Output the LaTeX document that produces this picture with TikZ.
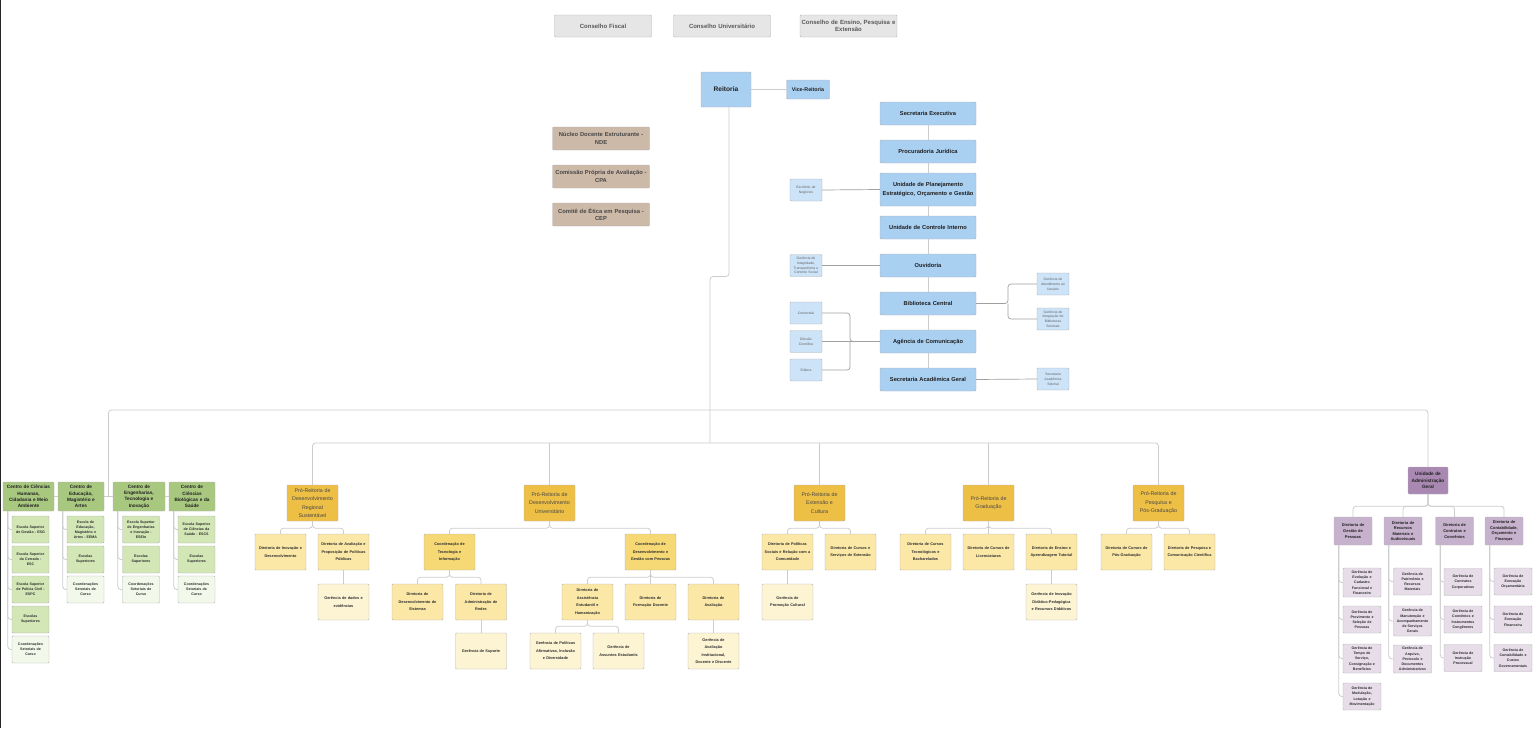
\documentclass[tikz,border=0pt]{standalone}
\usepackage{fontspec}
\setmainfont{Liberation Sans}

\definecolor{conselhocor}{HTML}{E6E6E6}
\definecolor{azul}{HTML}{A9CFF1}
\definecolor{azulclaro}{HTML}{CDE3F8}
\definecolor{comissaocor}{HTML}{CDB9A8}
\definecolor{centrocor}{HTML}{A8C77F}
\definecolor{escolacor}{HTML}{D2E6B6}
\definecolor{setorialcor}{HTML}{F2F8EA}
\definecolor{proreicor}{HTML}{EEBF45}
\definecolor{coordcor}{HTML}{F6D875}
\definecolor{diretcor}{HTML}{FBE8A7}
\definecolor{gerencor}{HTML}{FDF4D4}
\definecolor{uagcor}{HTML}{A988B2}
\definecolor{uagdircor}{HTML}{C7B2CE}
\definecolor{uaggercor}{HTML}{E6DDE9}
\definecolor{linha}{HTML}{CCCCCC}
\definecolor{linhaesc}{HTML}{A0A0A0}

\begin{document}
\begin{tikzpicture}[x=1pt, y=-1pt,
    box/.style={draw=black!30, rounded corners=1pt, align=center, inner sep=0pt},
    ramo/.style={draw=linha, line width=0.8pt, rounded corners=3pt},
    ramoesc/.style={draw=linhaesc, line width=0.7pt, rounded corners=3pt}]

        \useasboundingbox (0,0) rectangle (1536,728);
        \draw[line width=1.4pt, black!85] (0.7,0) -- (0.7,728);

        % conselhos
        \begin{scope}[every node/.style={box, fill=conselhocor, text=black!65, text width=97pt,
            minimum height=22pt, font=\fontsize{6}{7.5}\selectfont\bfseries}]
          \node (cf)   at (603,26)   {Conselho Fiscal};
          \node (cu)   at (722,26)   {Conselho Universitário};
          \node (cepe) at (848.5,26) {Conselho de Ensino, Pesquisa e\\Extensão};
        \end{scope}

        \begin{scope}[every node/.style={box, fill=comissaocor, text=black!72, text width=97pt,
            minimum height=23pt, font=\fontsize{5.8}{7.5}\selectfont\bfseries}]
          \node (nde) at (601,138.5) {Núcleo Docente Estruturante -\\NDE};
          \node (cpa) at (601,176.5) {Comissão Própria de Avaliação -\\CPA};
          \node (cep) at (601,214.5) {Comitê de Ética em Pesquisa -\\CEP};
        \end{scope}

        % reitoria e unidades
        \begin{scope}[every node/.style={box, fill=azul, text=black!88, text width=96pt,
            minimum height=23pt, font=\fontsize{5.7}{9.3}\selectfont\bfseries}]
          \node[text width=50pt, minimum height=35pt, font=\fontsize{6.6}{8}\selectfont\bfseries] (rei) at (726,89.5) {Reitoria};
          \node[text width=43pt, minimum height=19pt, font=\fontsize{5.3}{7}\selectfont\bfseries] (vice) at (808,89.5) {Vice-Reitoria};
          \node (sec)  at (928,113.5) {Secretaria Executiva};
          \node (proc) at (928,151.5) {Procuradoria Jurídica};
          \node[minimum height=33pt] (upl) at (928,189.5) {Unidade de Planejamento\\Estratégico, Orçamento e Gestão};
          \node (uci)  at (928,227.5) {Unidade de Controle Interno};
          \node (ouv)  at (928,265.5) {Ouvidoria};
          \node (bib)  at (928,303.5) {Biblioteca Central};
          \node (agc)  at (928,341.5) {Agência de Comunicação};
          \node (sag)  at (928,379.5) {Secretaria Acadêmica Geral};
        \end{scope}

        \begin{scope}[every node/.style={box, fill=azulclaro, text=black!62, text width=32pt,
            minimum height=22pt, font=\fontsize{3.4}{4.8}\selectfont}]
          \node (esn)  at (806,190)   {Escritório de\\Negócios};
          \node (gitc) at (806,265.5) {Gerência de\\Integridade,\\Transparência e\\Controle Social};
          \node (cer)  at (806,313)   {Cerimonial};
          \node (dif)  at (806,341.5) {Difusão\\Científica};
          \node (edi)  at (806,370)   {Editora};
          \node (gau)  at (1053,284)  {Gerência de\\Atendimento ao\\Usuário};
          \node (gibs) at (1053,319)  {Gerência de\\Integração de\\Bibliotecas\\Setoriais};
          \node (sas)  at (1053,379)  {Secretaria\\Acadêmica\\Setorial};
        \end{scope}

        % centros
        \begin{scope}[every node/.style={box, fill=centrocor, text=black!88,
            minimum height=29pt, font=\fontsize{4.7}{6.2}\selectfont\bfseries}]
          \node[text width=51pt] (cchcma) at (28.5,496.5) {Centro de Ciências\\Humanas,\\Cidadania e Meio\\Ambiente};
          \node[text width=46pt] (cema)   at (81,496.5)   {Centro de\\Educação,\\Magistério e\\Artes};
          \node[text width=52pt] (cetti)  at (139,496.5)  {Centro de\\Engenharias,\\Tecnologia e\\Inovação};
          \node[text width=46pt] (ccbs)   at (192,496.5)  {Centro de\\Ciências\\Biológicas e da\\Saúde};
        \end{scope}

        \begin{scope}[every node/.style={box, fill=escolacor, text=black!82, text width=37pt,
            minimum height=27pt, font=\fontsize{3.6}{5.1}\selectfont\bfseries}]
          \node (esg)   at (30.5,529.5) {Escola Superior\\de Gestão - ESG};
          \node (esc)   at (30.5,559.5) {Escola Superior\\do Cerrado -\\ESC};
          \node (espc)  at (30.5,589.5) {Escola Superior\\de Polícia Civil -\\ESPC};
          \node (esa)   at (30.5,619.5) {Escolas\\Superiores};
          \node[fill=setorialcor] (csa) at (30.5,649.5) {Coordenações\\Setoriais de\\Curso};
          \node (eema)  at (85.5,529.5) {Escola de\\Educação,\\Magistério e\\Artes - EEMA};
          \node (esb)   at (85.5,559.5) {Escolas\\Superiores};
          \node[fill=setorialcor] (csb) at (85.5,589.5) {Coordenações\\Setoriais de\\Curso};
          \node (esein) at (141,529.5)  {Escola Superior\\de Engenharias\\e Inovação -\\ESEIn};
          \node (esd)   at (141,559.5)  {Escolas\\Superiores};
          \node[fill=setorialcor] (csd) at (141,589.5) {Coordenações\\Setoriais de\\Curso};
          \node (escs)  at (196.5,529.5) {Escola Superior\\de Ciências da\\Saúde - ESCS};
          \node (ese)   at (196.5,559.5) {Escolas\\Superiores};
          \node[fill=setorialcor] (cse) at (196.5,589.5) {Coordenações\\Setoriais de\\Curso};
        \end{scope}

        % pro-reitorias
        \begin{scope}[every node/.style={box, fill=proreicor, text=black!72, text width=51pt,
            minimum height=36pt, font=\fontsize{5.3}{8.4}\selectfont}]
          \node (prdrs) at (312.5,503)  {Pró-Reitoria de\\Desenvolvimento\\Regional\\Sustentável};
          \node (prdu)  at (549.5,503)  {Pró-Reitoria de\\Desenvolvimento\\Universitário};
          \node (prec)  at (819.5,503)  {Pró-Reitoria de\\Extensão e\\Cultura};
          \node (prg)   at (988.5,503)  {Pró-Reitoria de\\Graduação};
          \node (prpg)  at (1158.5,503) {Pró-Reitoria de\\Pesquisa e\\Pós-Graduação};
        \end{scope}

        \begin{scope}[every node/.style={box, fill=diretcor, text=black!82, text width=51pt,
            minimum height=36pt, font=\fontsize{3.85}{7.5}\selectfont\bfseries}]
          \node[fill=coordcor] (cti)  at (449.5,552) {Coordenação de\\Tecnologia e\\Informação};
          \node[fill=coordcor] (cdgp) at (650.5,552) {Coordenação de\\Desenvolvimento e\\Gestão com Pessoas};
          \node (dinov) at (280.5,552)  {Diretoria de Inovação e\\Desenvolvimento};
          \node (dapp)  at (343.5,552)  {Diretoria de Avaliação e\\Proposição de Políticas\\Públicas};
          \node (dds)   at (417.5,602)  {Diretoria de\\Desenvolvimento de\\Sistemas};
          \node (dar)   at (481,602)    {Diretoria de\\Administração de\\Redes};
          \node (daeh)  at (587.5,602)  {Diretoria de\\Assistência\\Estudantil e\\Humanização};
          \node (dfd)   at (650.5,602)  {Diretoria de\\Formação Docente};
          \node (dav)   at (713.5,602)  {Diretoria de\\Avaliação};
          \node (dpsrc) at (787.5,552)  {Diretoria de Políticas\\Sociais e Relação com a\\Comunidade};
          \node (dcse)  at (850.5,552)  {Diretoria de Cursos e\\Serviços de Extensão};
          \node (dctb)  at (925.5,552)  {Diretoria de Cursos\\Tecnológicos e\\Bacharelados};
          \node (dcl)   at (988.5,552)  {Diretoria de Cursos de\\Licenciaturas};
          \node (deat)  at (1051.5,552) {Diretoria de Ensino e\\Aprendizagem Tutorial};
          \node (dcpg)  at (1126.5,552) {Diretoria de Cursos de\\Pós-Graduação};
          \node (dpcc)  at (1189.5,552) {Diretoria de Pesquisa e\\Comunicação Científica};
          \begin{scope}[every node/.append style={fill=gerencor}]
            \node (gde)   at (343.5,602)  {Gerência de dados e\\evidências};
            \node (gsup)  at (481,651)    {Gerência de Suporte};
            \node (gpaid) at (555.5,651)  {Gerência de Políticas\\Afirmativas, Inclusão\\e Diversidade};
            \node (gae)   at (618.5,651)  {Gerência de\\Assuntos Estudantis};
            \node (gaidd) at (713.5,651)  {Gerência de\\Avaliação\\Institucional,\\Docente e Discente};
            \node (gpc)   at (787.5,602)  {Gerência de\\Promoção Cultural};
            \node (gidp)  at (1051.5,602) {Gerência de Inovação\\Didático-Pedagógica\\e Recursos Didáticos};
          \end{scope}
        \end{scope}

        % administracao geral
        \begin{scope}[every node/.style={box, fill=uagdircor, text=black!88, text width=38pt,
            minimum height=28pt, font=\fontsize{4}{5.6}\selectfont\bfseries}]
          \node[fill=uagcor, text width=40pt, minimum height=27pt, font=\fontsize{4.7}{6.2}\selectfont\bfseries] (uag) at (1428,480.5) {Unidade de\\Administração\\Geral};
          \node (dgp)  at (1353,531)   {Diretoria de\\Gestão de\\Pessoas};
          \node (drma) at (1403,531)   {Diretoria de\\Recursos\\Materiais e\\Audiovisuais};
          \node (dcc)  at (1454.5,531) {Diretoria de\\Contratos e\\Convênios};
          \node (dcof) at (1504,531)   {Diretoria de\\Contabilidade,\\Orçamento e\\Finanças};
        \end{scope}

        \begin{scope}[every node/.style={box, fill=uaggercor, text=black!82, text width=38pt,
            minimum height=27pt, font=\fontsize{3.6}{5.2}\selectfont\bfseries}]
          \node[minimum height=29pt] (gecff) at (1362,582.5) {Gerência de\\Evolução e\\Cadastro\\Funcional e\\Financeiro};
          \node (gpsp)  at (1362,619.5) {Gerência de\\Provimento e\\Seleção de\\Pessoas};
          \node[minimum height=29pt] (gtscb) at (1362,658.5) {Gerência de\\Tempo de\\Serviço,\\Consignação e\\Benefícios};
          \node (gmlm)  at (1362,696.5) {Gerência de\\Modulação,\\Lotação e\\Movimentação};
          \node (gprm)  at (1412.5,581.5) {Gerência de\\Patrimônio e\\Recursos\\Materiais};
          \node[minimum height=30pt] (gmasg) at (1412.5,621) {Gerência de\\Manutenção e\\Acompanhamento\\de Serviços\\Gerais};
          \node[minimum height=28pt] (gapda) at (1412.5,659) {Gerência de\\Arquivo,\\Protocolo e\\Documentos\\Administrativos};
          \node (gcc)   at (1463,582)   {Gerência de\\Contratos\\Corporativos};
          \node (gcic)  at (1463,619.5) {Gerência de\\Convênios e\\Instrumentos\\Congêneres};
          \node (gip)   at (1463,658)   {Gerência de\\Instrução\\Processual};
          \node (gexo)  at (1513,581.5) {Gerência de\\Execução\\Orçamentária};
          \node (gexf)  at (1513,619.5) {Gerência de\\Execução\\Financeira};
          \node (gccg)  at (1513,658)   {Gerência de\\Contabilidade e\\Custos\\Governamentais};
        \end{scope}

        % pontos de juncao
        \coordinate (dobra) at (710,276.5);
        \coordinate (hub)   at (710,410);
        \coordinate (eixo)  at (710,443);
        \coordinate (cjun)  at (108.5,496.5);
        \coordinate (agcj)  at (850,341.5);
        \coordinate (bibj)  at (1008,303.5);

        % ligacoes
        \begin{scope}[every path/.style={ramo}]
          \path (rei.east) edge (vice.west);
          \draw ([xshift=3pt]rei.south) |- (dobra) -- (eixo);
          \draw (cjun) |- (hub) -| (uag.north);
          \draw (prdrs.north) |- (eixo) -| (prpg.north);
          \foreach \p in {prdu,prec,prg} \draw (\p.north) -- (\p.north |- eixo);

          \foreach \a/\b in {sec/proc,proc/upl,upl/uci,uci/ouv,ouv/bib,bib/agc,agc/sag}
            \draw (\a.south) -- (\b.north);

          \foreach \a/\b in {cchcma/cema,cema/cetti,cetti/ccbs}
            \draw (\a.east) -- (\b.west);
          \foreach \c in {esg,esc,espc,esa,csa} \draw (cchcma.south west) ++(5,0) |- (\c.west);
          \foreach \c in {eema,esb,csb} \draw (cema.south west) ++(5,0) |- (\c.west);
          \foreach \c in {esein,esd,csd} \draw (cetti.south west) ++(5,0) |- (\c.west);
          \foreach \c in {escs,ese,cse} \draw (ccbs.south west) ++(5,0) |- (\c.west);

          \foreach \c in {dinov,dapp} \draw (prdrs.south) -- ++(0,7) -| (\c.north);
          \foreach \c in {cti,cdgp} \draw (prdu.south) -- ++(0,7) -| (\c.north);
          \foreach \c in {dds,dar} \draw (cti.south) -- ++(0,7) -| (\c.north);
          \foreach \c in {daeh,dfd,dav} \draw (cdgp.south) -- ++(0,7) -| (\c.north);
          \foreach \c in {gpaid,gae} \draw (daeh.south) -- ++(0,6) -| (\c.north);
          \foreach \c in {dpsrc,dcse} \draw (prec.south) -- ++(0,7) -| (\c.north);
          \foreach \c in {dctb,dcl,deat} \draw (prg.south) -- ++(0,7) -| (\c.north);
          \foreach \c in {dcpg,dpcc} \draw (prpg.south) -- ++(0,7) -| (\c.north);
          \foreach \a/\b in {dapp/gde,dar/gsup,dav/gaidd,dpsrc/gpc,deat/gidp}
            \draw (\a.south) -- (\b.north);

          \foreach \c in {dgp,drma,dcc,dcof} \draw (uag.south) -- ++(0,12) -| (\c.north);
          \foreach \c in {gecff,gpsp,gtscb,gmlm} \draw (dgp.south west) ++(5,0) |- (\c.west);
          \foreach \c in {gprm,gmasg,gapda} \draw (drma.south west) ++(5,0) |- (\c.west);
          \foreach \c in {gcc,gcic,gip} \draw (dcc.south west) ++(5,0) |- (\c.west);
          \foreach \c in {gexo,gexf,gccg} \draw (dcof.south west) ++(5,0) |- (\c.west);
        \end{scope}

        \begin{scope}[every path/.style={ramoesc}]
          \draw (esn.east) -- (upl.west);
          \draw (gitc.east) -- (ouv.west);
          \draw (cer.east) -| (agcj) -- (agc.west);
          \draw (edi.east) -| (agcj);
          \draw (dif.east) -- (agc.west);
          \draw (bib.east) -- (bibj) |- (gau.west);
          \draw (bibj) |- (gibs.west);
          \draw (sag.east) -- (sas.west);
        \end{scope}

      \end{tikzpicture}
\end{document}
